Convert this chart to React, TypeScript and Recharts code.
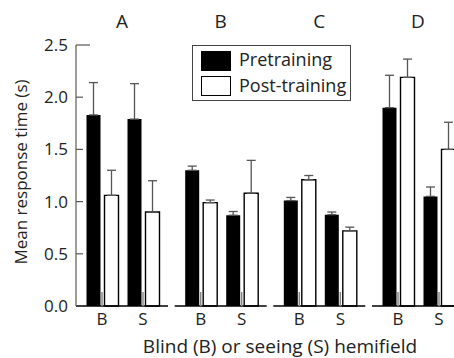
import React from 'react';
import { BarChart, Bar, XAxis, YAxis, ErrorBar, Legend } from 'recharts';

const panels = ['A', 'B', 'C', 'D'];
const hemifields = ['B', 'S'];
const preValues = [[1.83, 1.79], [1.3, 0.87], [1.01, 0.875], [1.9, 1.05]];
const preErrors = [[0.31, 0.34], [0.04, 0.035], [0.03, 0.025], [0.31, 0.09]];
const postValues = [[1.06, 0.9], [0.99, 1.08], [1.21, 0.72], [2.19, 1.5]];
const postErrors = [[0.24, 0.3], [0.025, 0.315], [0.04, 0.035], [0.175, 0.26]];
const yTicks = [0, 0.5, 1, 1.5, 2, 2.5];

const W = 454;
const H = 358;
const FONT = '"Open Sans", sans-serif';
const panelLeft = [76, 174.7, 273.3, 372];
const panelWidth = 92;

const XTick = (props: any) => {
  const { x, y, payload } = props;
  return (
    <g>
      <line x1={x} x2={x} y1={y - 14} y2={y} stroke="#8a8a8a" strokeWidth={1.5} />
      <text x={x} y={y + 19} textAnchor="middle" fontSize={17} fontFamily={FONT} fill="#222">
        {payload.value}
      </text>
    </g>
  );
};

const YTick = (props: any) => {
  const { x, y, payload } = props;
  const len = payload.value === 2.5 ? 14 : payload.value === 0 ? 0 : 7;
  return (
    <g>
      {len > 0 && <line x1={x} x2={x + len} y1={y} y2={y} stroke="#555" strokeWidth={1.2} />}
      <text x={x - 8} y={y + 6} textAnchor="end" fontSize={17} fontFamily={FONT} fill="#222">
        {payload.value.toFixed(1)}
      </text>
    </g>
  );
};

const LegendBox = () => (
  <div
    style={{
      width: 159,
      height: 56,
      border: '1px solid #444',
      background: '#fff',
      fontFamily: FONT,
      fontSize: 18,
      color: '#222',
      boxSizing: 'border-box',
      position: 'relative',
      whiteSpace: 'nowrap',
    }}
  >
    <div style={{ position: 'absolute', left: 8, top: 5, width: 30, height: 20, background: '#000' }} />
    <div style={{ position: 'absolute', left: 46, top: 1, lineHeight: '24px' }}>Pretraining</div>
    <div
      style={{
        position: 'absolute',
        left: 8,
        top: 30,
        width: 30,
        height: 20,
        background: '#fff',
        border: '1.5px solid #000',
        boxSizing: 'border-box',
      }}
    />
    <div style={{ position: 'absolute', left: 46, top: 27, lineHeight: '24px' }}>Post-training</div>
  </div>
);

const Panel = ({ index }: { index: number }) => {
  const rows = hemifields.map((h, i) => ({
    side: h,
    pre: preValues[index][i],
    preErr: [0, preErrors[index][i]],
    post: postValues[index][i],
    postErr: [0, postErrors[index][i]],
  }));
  const first = index === 0;
  const yWidth = 60;
  const left = panelLeft[index];
  return (
    <div style={{ position: 'absolute', left: 0, top: 0 }}>
      <BarChart
        width={W}
        height={H}
        data={rows}
        barSize={14}
        barGap={4}
        margin={{ top: 45, bottom: 0, left: first ? left - yWidth : left, right: W - left - panelWidth }}
      >
        <XAxis
          dataKey="side"
          height={52}
          interval={0}
          padding={{ left: 5.5, right: 4.5 }}
          axisLine={{ stroke: '#000', strokeWidth: 1.3 }}
          tickLine={false}
          tickSize={0}
          tickMargin={0}
          tick={<XTick />}
        />
        <YAxis
          hide={!first}
          width={yWidth}
          domain={[0, 2.5]}
          ticks={yTicks}
          axisLine={{ stroke: '#666', strokeWidth: 1.3 }}
          tickLine={false}
          tickSize={0}
          tickMargin={0}
          tick={<YTick />}
        />
        {index === 1 && (
          <Legend
            layout="vertical"
            align="center"
            verticalAlign="middle"
            wrapperStyle={{ position: 'absolute', left: 192, top: 45, width: 159 }}
            content={() => <LegendBox />}
          />
        )}
        <Bar dataKey="pre" name="Pretraining" fill="#000" isAnimationActive={false}>
          <ErrorBar dataKey="preErr" width={4.5} stroke="#555" strokeWidth={1.3} />
        </Bar>
        <Bar dataKey="post" name="Post-training" fill="#fff" stroke="#000" strokeWidth={1.4} isAnimationActive={false}>
          <ErrorBar dataKey="postErr" width={4.5} stroke="#555" strokeWidth={1.3} />
        </Bar>
        <text x={left + panelWidth / 2} y={28} textAnchor="middle" fontSize={19} fontFamily={FONT} fill="#222">
          {panels[index]}
        </text>
        {first && (
          <text transform="translate(27,172) rotate(-90)" textAnchor="middle" fontSize={17} fontFamily={FONT} fill="#222">
            Mean response time (s)
          </text>
        )}
        {first && (
          <text x={280} y={353} textAnchor="middle" fontSize={19} fontFamily={FONT} fill="#222">
            Blind (B) or seeing (S) hemifield
          </text>
        )}
      </BarChart>
    </div>
  );
};

export default function App() {
  return (
    <div style={{ position: 'fixed', left: 0, top: 0, width: W, height: H, overflow: 'hidden', background: '#fff' }}>
      {panels.map((p, i) => (
        <Panel key={p} index={i} />
      ))}
    </div>
  );
}
